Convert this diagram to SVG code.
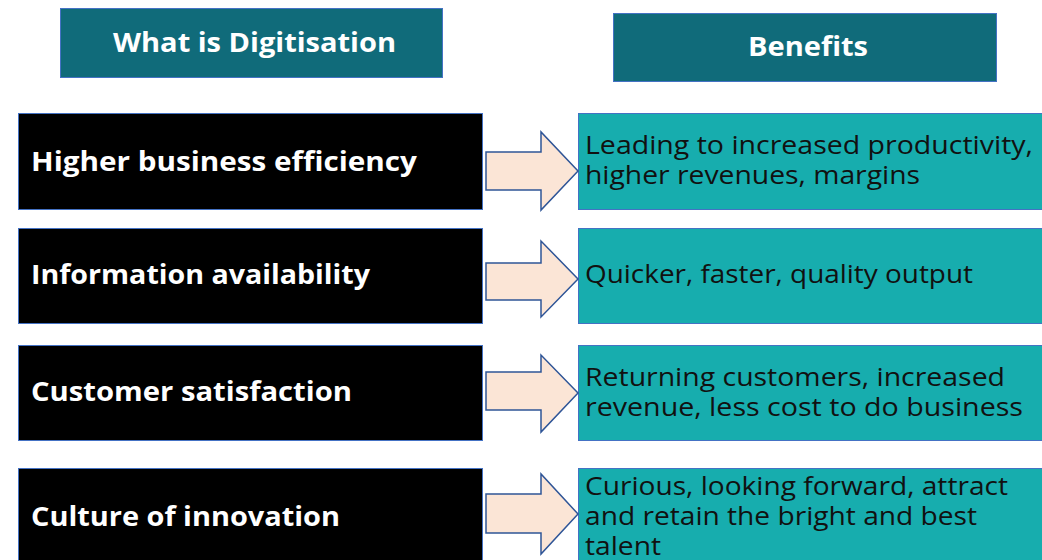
<svg xmlns="http://www.w3.org/2000/svg" width="1042" height="560" viewBox="0 0 1042 560">
<style>
.hdr{fill:#106b7a;stroke:#4472c4;stroke-width:1}
.hdrt{font-family:"Open Sans","Lato",sans-serif;font-weight:bold;font-size:26px;fill:#ffffff}
.blk{fill:#000000;stroke:#4472c4;stroke-width:1}
.blkt{font-family:"Open Sans","Lato",sans-serif;font-weight:bold;font-size:26px;fill:#ffffff}
.tl{fill:#17adae;stroke:#4472c4;stroke-width:1}
.tlt{font-family:"Open Sans","Lato",sans-serif;font-size:25px;fill:#111111}
.arr{fill:#fbe5d6;stroke:#2f5597;stroke-width:1.5}
</style>
<rect width="1042" height="560" fill="#ffffff"/>
<g id="header-what">
<rect class="hdr" x="60.5" y="8.5" width="382" height="69"/>
<text class="hdrt" x="113" y="52" textLength="283" lengthAdjust="spacingAndGlyphs">What is Digitisation</text>
</g>
<g id="header-benefits">
<rect class="hdr" x="613.5" y="13.5" width="383" height="68"/>
<text class="hdrt" x="748" y="56" textLength="120" lengthAdjust="spacingAndGlyphs">Benefits</text>
</g>
<g id="what-1">
<rect class="blk" x="18.5" y="113.5" width="464" height="96"/>
<text class="blkt" x="31" y="171" textLength="386" lengthAdjust="spacingAndGlyphs">Higher business efficiency</text>
</g>
<g id="what-2">
<rect class="blk" x="18.5" y="228.5" width="464" height="95"/>
<text class="blkt" x="31" y="284" textLength="339" lengthAdjust="spacingAndGlyphs">Information availability</text>
</g>
<g id="what-3">
<rect class="blk" x="18.5" y="345.5" width="464" height="95"/>
<text class="blkt" x="31" y="401" textLength="321" lengthAdjust="spacingAndGlyphs">Customer satisfaction</text>
</g>
<g id="what-4">
<rect class="blk" x="18.5" y="468.5" width="464" height="100"/>
<text class="blkt" x="31" y="526" textLength="309" lengthAdjust="spacingAndGlyphs">Culture of innovation</text>
</g>
<g id="benefit-1">
<rect class="tl" x="578.5" y="113.5" width="470" height="96"/>
<text class="tlt" x="585" y="154" textLength="448" lengthAdjust="spacingAndGlyphs">Leading to increased productivity,</text>
<text class="tlt" x="585" y="184" textLength="335" lengthAdjust="spacingAndGlyphs">higher revenues, margins</text>
</g>
<g id="benefit-2">
<rect class="tl" x="578.5" y="228.5" width="470" height="95"/>
<text class="tlt" x="585" y="283" textLength="388" lengthAdjust="spacingAndGlyphs">Quicker, faster, quality output</text>
</g>
<g id="benefit-3">
<rect class="tl" x="578.5" y="345.5" width="470" height="95"/>
<text class="tlt" x="585" y="386" textLength="420" lengthAdjust="spacingAndGlyphs">Returning customers, increased</text>
<text class="tlt" x="585" y="416" textLength="438" lengthAdjust="spacingAndGlyphs">revenue, less cost to do business</text>
</g>
<g id="benefit-4">
<rect class="tl" x="578.5" y="468.5" width="470" height="100"/>
<text class="tlt" x="585" y="495" textLength="423" lengthAdjust="spacingAndGlyphs">Curious, looking forward, attract</text>
<text class="tlt" x="585" y="525" textLength="392" lengthAdjust="spacingAndGlyphs">and retain the bright and best</text>
<text class="tlt" x="585" y="555" textLength="76" lengthAdjust="spacingAndGlyphs">talent</text>
</g>
<g id="connectors">
<polygon class="arr" points="486,152 541,152 541,132 578,171 541,210 541,190 486,190"/>
<polygon class="arr" points="486,263 541,263 541,241 578,279 541,317 541,300 486,300"/>
<polygon class="arr" points="486,372 541,372 541,355 578,393 541,432 541,410 486,410"/>
<polygon class="arr" points="486,494 541,494 541,474 578,514 541,554 541,533 486,533"/>
</g>
</svg>
